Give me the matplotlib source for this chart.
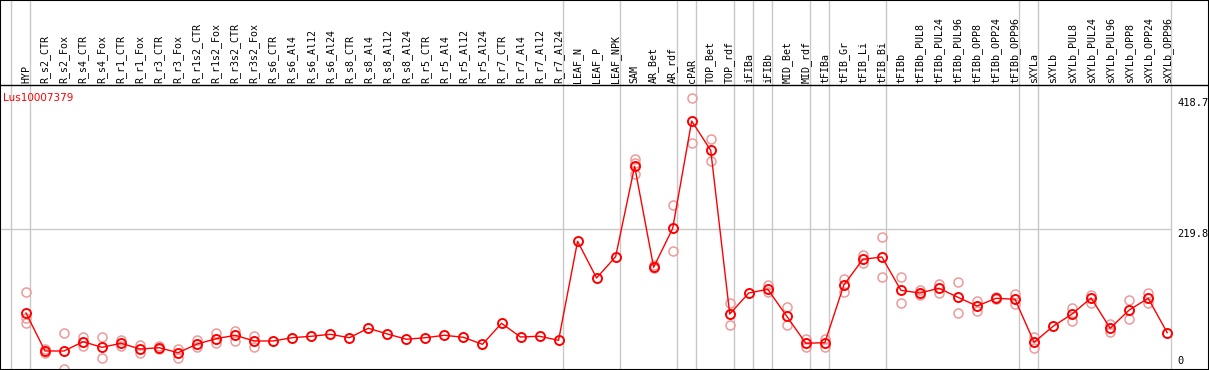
import matplotlib
matplotlib.use("Agg")
import matplotlib.pyplot as plt
from matplotlib.lines import Line2D

# sample names along the top
samples = ['HYP', 'R_s2_CTR', 'R_s2_Fox', 'R_s4_CTR', 'R_s4_Fox', 'R_r1_CTR', 'R_r1_Fox',
           'R_r3_CTR', 'R_r3_Fox', 'R_r1s2_CTR', 'R_r1s2_Fox', 'R_r3s2_CTR', 'R_r3s2_Fox',
           'R_s6_CTR', 'R_s6_Al4', 'R_s6_Al12', 'R_s6_Al24', 'R_s8_CTR', 'R_s8_Al4',
           'R_s8_Al12', 'R_s8_Al24', 'R_r5_CTR', 'R_r5_Al4', 'R_r5_Al12', 'R_r5_Al24',
           'R_r7_CTR', 'R_r7_Al4', 'R_r7_Al12', 'R_r7_Al24', 'LEAF_N', 'LEAF_P', 'LEAF_NPK',
           'SAM', 'AR_Bet', 'AR_rdf', 'cPAR', 'TOP_Bet', 'TOP_rdf', 'iFIBa', 'iFIBb',
           'MID_Bet', 'MID_rdf', 'tFIBa', 'tFIB_Gr', 'tFIB_Li', 'tFIB_Bi', 'tFIBb',
           'tFIBb_PUL8', 'tFIBb_PUL24', 'tFIBb_PUL96', 'tFIBb_OPP8', 'tFIBb_OPP24',
           'tFIBb_OPP96', 'sXYLa', 'sXYLb', 'sXYLb_PUL8', 'sXYLb_PUL24', 'sXYLb_PUL96',
           'sXYLb_OPP8', 'sXYLb_OPP24', 'sXYLb_OPP96']

# mean expression per sample
means = [90.7, 32.7, 32.7, 46.9, 38.3, 44.5, 35.7, 37.7, 30.1, 43.4, 51.5, 56.7, 48.0,
         48.0, 53.0, 55.2, 58.2, 53.0, 67.4, 58.7, 50.6, 53.0, 56.7, 53.6, 42.9,
         75.0, 54.1, 55.2, 49.0, 200.3, 144.2, 176.8,
         314.9, 160.6, 220.1, 384.0, 339.3, 89.2, 121.3, 127.0,
         85.7, 44.5, 45.4, 133.5, 172.8, 176.3, 125.4,
         121.3, 128.5, 114.7, 101.4, 113.2, 111.7,
         46.0, 70.4, 89.2, 113.7, 67.4, 95.3, 113.2, 60.7]

# individual replicates (lighter circles)
reps = [[122.8, 83.1, 75.5], [35.7, 29.6], [60.2, 5.2], [54.5, 40.8], [54.5, 22.5],
        [50.0, 40.3], [41.9, 29.6], [40.3, 35.7], [35.7, 22.5], [49.5, 38.8],
        [60.7, 45.4], [63.7, 48.4], [55.6, 39.3], [], [], [], [], [], [], [], [],
        [], [], [], [], [], [], [], [], [], [], [],
        [326.0, 319.9, 302.6], [164.1, 159.5], [255.7, 185.0], [418.7, 350.0],
        [356.6, 323.0], [106.0, 72.0], [], [133.1, 122.8],
        [99.5, 72.0], [51.5, 39.3], [51.5, 38.8], [142.7, 122.4], [179.8, 167.6],
        [206.4, 145.3], [145.3, 105.6],
        [125.9, 118.2], [135.0, 121.8], [137.6, 90.3], [109.1, 94.3], [115.2, 112.1],
        [119.3, 104.5],
        [54.5, 37.3], [], [98.4, 79.0], [118.7, 106.5], [73.9, 61.7], [110.6, 81.1],
        [121.8, 105.6], []]

# last sample index of each group (gray separators)
group_ends = [-1, 0, 28, 31, 34, 35, 37, 38, 39, 41, 42, 45, 52, 53, 60]

W, H = 1209, 370
step = 19.02
x0 = 26
y_zero = 372.4
ppu = 0.6546

fig = plt.figure(figsize=(W / 100, H / 100), dpi=100)
ax = fig.add_axes([0, 0, 1, 1])
ax.set_xlim(-x0 / step, (W - x0) / step)
ax.set_ylim((y_zero - H) / ppu, y_zero / ppu)
ax.set_xticks([])
ax.set_yticks([])
for s in ax.spines.values():
    s.set_color('black')
    s.set_linewidth(1.5)

gray = '#c8c8c8'
for g in group_ends:
    ax.axvline(g + 0.21, color=gray, lw=1, zorder=1)
ax.hlines(219.8, -x0 / step, 60.21, color=gray, lw=1, zorder=1)

# header separator line
fig.add_artist(Line2D([0, 1], [1 - 85 / H] * 2, color='black', lw=1,
                      transform=fig.transFigure))

for i, r in enumerate(reps):
    if r:
        ax.plot([i] * len(r), r, 'o', mfc='none', mec='#ee9a9a', ms=6.5, mew=1.1,
                zorder=2)

xs = list(range(len(samples)))
ax.plot(xs, means, '-', color='red', lw=1, zorder=3)
ax.plot(xs, means, 'o', mfc='none', mec='red', ms=6.5, mew=1.4, zorder=4)

tr = ax.get_xaxis_transform()
for i, name in enumerate(samples):
    ax.text(i, 1 - 83 / H, name, rotation=90, ha='center', va='bottom',
            fontsize=7.2, family='DejaVu Sans Mono', transform=tr)

ax.text(3 / W, 1 - 98 / H, 'Lus10007379', color='red', fontsize=7.5,
        ha='left', va='center', transform=ax.transAxes)

ytr = ax.get_yaxis_transform()
ax.text(1177 / W, 418.7, '418.7', fontsize=7.5, family='DejaVu Sans Mono',
        ha='left', va='top', transform=ytr)
ax.text(1177 / W, 219.8, '219.8', fontsize=7.5, family='DejaVu Sans Mono',
        ha='left', va='top', transform=ytr)
ax.text(1177 / W, 4 / H, '0', fontsize=7.5, family='DejaVu Sans Mono',
        ha='left', va='bottom', transform=ax.transAxes)

fig.savefig('out.png', dpi=100)
